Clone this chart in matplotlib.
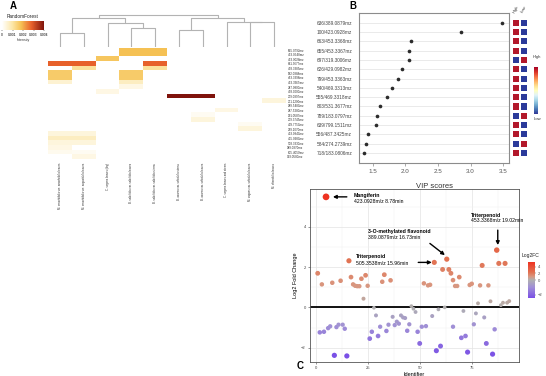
import matplotlib
matplotlib.use('Agg')
import matplotlib.pyplot as plt
import numpy as np
from matplotlib.colors import LinearSegmentedColormap, TwoSlopeNorm, Normalize
from matplotlib.cm import ScalarMappable

plt.rcParams['font.family'] = ['Liberation Sans', 'DejaVu Sans']

# ---------------- data ----------------
# panel A: random forest intensity heatmap
heat_cols = ['M. amoebifolia var. amoebifolia leaves', 'M. amoebifolia var. angustifolia leaves',
             'C. vagans leaves (dry)', 'B. salicifolia var. salicifolia leaves',
             'B. salicifolia var. salicifolia stems', 'B. azurea var. salicifolia stems',
             'B. azurea var. salicifolia leaves', 'C. vagans leaves and stems',
             'M. vagans var. salicifolia leaves', 'M. alternifolia leaves']
heat_rows = ['655.0792mz', '453.0548mz', '453.0028mz', '631.3677mz', '493.3385mz', '182.0888mz',
             '463.3398mz', '453.3365mz', '247.0800mz', '493.0000mz', '279.0897mz', '271.1200mz',
             '289.5480mz', '287.5280mz', '291.0587mz', '279.3745mz', '429.7750mz', '239.1070mz',
             '433.0940mz', '415.0980mz', '503.3330mz', '389.0870mz', '605.4050mz', '303.0580mz']
# (row, column, intensity) for non-empty cells
heat_cells = [(0, 3, 0.0018), (0, 4, 0.0018), (1, 3, 0.0018), (1, 4, 0.0018),
              (2, 2, 0.0017),
              (3, 0, 0.0028), (3, 1, 0.0028), (3, 4, 0.0028),
              (4, 1, 0.0011), (4, 4, 0.0011),
              (5, 0, 0.0016), (5, 3, 0.0016), (6, 0, 0.0016), (6, 3, 0.0016),
              (7, 0, 0.0005), (7, 3, 0.0007), (8, 3, 0.0003),
              (9, 2, 0.0003),
              (10, 5, 0.0040), (10, 6, 0.0040),
              (11, 9, 0.0004), (13, 7, 0.0003),
              (14, 6, 0.00015), (15, 6, 0.0004),
              (16, 8, 0.00015), (17, 8, 0.0004),
              (18, 0, 0.0004), (18, 1, 0.0004), (19, 0, 0.0007), (19, 1, 0.0007),
              (20, 0, 0.0004), (20, 1, 0.0004), (21, 0, 0.0003),
              (22, 0, 0.0002), (22, 1, 0.00015), (23, 1, 0.0003)]
# dendrogram merges: (node a, node b, height); new nodes numbered from 10
dend_merges = [(0, 1, 13), (3, 4, 18), (2, 11, 23), (10, 12, 28),
               (5, 6, 16), (8, 9, 24.3), (7, 15, 24.5), (14, 16, 27.7), (13, 17, 31)]

# panel B: VIP scores
vip_labels = ['636/389.0879mz', '100/423.0928mz', '663/453.3368mz', '655/453.3367mz',
              '697/319.3006mz', '626/429.0982mz', '799/453.3363mz', '540/469.3313mz',
              '555/469.3318mz', '803/531.3677mz', '789/183.0797mz', '639/799.1511mz',
              '556/487.3425mz', '584/274.2739mz', '718/183.0806mz']
vip_scores = [3.49, 2.86, 2.08, 2.055, 2.05, 1.95, 1.89, 1.79, 1.71, 1.61, 1.56, 1.54, 1.43, 1.40, 1.37]
vip_high_first = [1, 1, 1, 1, 0, 1, 1, 1, 1, 1, 0, 1, 1, 0, 1]
vip_groups = ['High', 'Low']

# panel C: log2 fold change per identifier
fc_id = [1, 3, 5, 8, 12, 16, 17, 18, 19, 20, 21, 22, 24, 25, 32, 33, 36, 52, 54, 55, 57, 61, 63,
         64, 65, 66, 67, 68, 69, 74, 75, 79, 80, 83, 87, 88, 91,
         23, 28, 46, 47, 48, 59, 62, 71, 78, 84, 89, 90, 92, 93, 29, 37, 41, 42, 43, 56, 77, 81,
         2, 4, 6, 7, 10, 11, 13, 14, 9, 15, 26, 27, 30, 31, 34, 35, 38, 39, 40, 44, 45, 49, 50,
         51, 53, 58, 60, 66, 70, 72, 73, 76, 82, 85, 86]
fc_val = [1.69, 1.14, 5.48, 1.22, 1.32, 2.31, 1.50, 1.14, 1.07, 1.05, 1.05, 1.42, 1.59, 1.07,
          1.27, 1.62, 1.34, 1.19, 1.09, 1.12, 2.23, 1.88, 2.39, 1.88, 1.69, 1.35, 1.06, 1.06,
          1.50, 1.11, 1.17, 1.09, 2.08, 1.09, 2.84, 2.18, 2.18,
          0.43, -0.02, 0.06, -0.07, -0.23, -0.10, 0.0, -0.18, 0.20, 0.30, 0.11, 0.23, 0.23, 0.31,
          -0.40, -0.47, -0.40, -0.50, -0.53, -0.43, -0.30, -0.50,
          -1.24, -1.21, -1.03, -0.94, -0.98, -0.86, -0.86, -1.06, -2.38, -2.41, -1.55, -1.21,
          -1.42, -0.96, -1.17, -0.86, -0.88, -0.71, -0.81, -1.16, -0.84, -1.21, -1.79, -0.96,
          -0.93, -2.15, -1.92, -0.96, -1.51, -1.42, -2.22, -0.84, -1.79, -2.32, -1.09]

W, H = 546, 376
fig = plt.figure(figsize=(W / 100, H / 100), dpi=100)


def px_axes(x0, y0, x1, y1, **kw):
    return fig.add_axes([x0 / W, 1 - y1 / H, (x1 - x0) / W, (y1 - y0) / H], **kw)


def ftext(x, y, s, **kw):
    return fig.text(x / W, 1 - y / H, s, **kw)


# ---------------- panel A ----------------
rf_cmap = LinearSegmentedColormap.from_list(
    'rf', [(0, '#ffffff'), (0.25, '#fce6a6'), (0.45, '#f6c255'), (0.7, '#e8622c'), (1, '#7f130c')])
heat = np.zeros((len(heat_rows), len(heat_cols)))
for r, c, v in heat_cells:
    heat[r, c] = v

axh = px_axes(48, 47.7, 286, 159.3)
axh.imshow(heat, cmap=rf_cmap, vmin=0, vmax=0.004, aspect='auto', interpolation='nearest')
axh.set_xticks(range(len(heat_cols)))
axh.set_xticklabels(heat_cols, rotation=90, fontsize=2.0, color='#333333')
axh.yaxis.tick_right()
axh.set_yticks(range(len(heat_rows)))
axh.set_yticklabels(heat_rows, fontsize=2.2, color='#333333')
axh.tick_params(length=0, pad=2.5)
axh.tick_params(axis='y', pad=1)
for s in axh.spines.values():
    s.set_visible(False)

# dendrogram
axd = px_axes(48, 13, 286, 46.5)
pos = {i: (float(i), 0.0) for i in range(len(heat_cols))}
for k, (a, b, h) in enumerate(dend_merges):
    xa, ha = pos[a]
    xb, hb = pos[b]
    axd.plot([xa, xa, xb, xb], [ha, h, h, hb], color='#b3b3b3', lw=0.8, solid_capstyle='butt')
    pos[len(heat_cols) + k] = ((xa + xb) / 2, h)
axd.set_xlim(-0.5, len(heat_cols) - 0.5)
axd.set_ylim(0, 33)
axd.axis('off')

# legend colorbar for A
cax_a = px_axes(2, 21, 44, 30)
cb_a = fig.colorbar(ScalarMappable(Normalize(0, 0.004), rf_cmap), cax=cax_a, orientation='horizontal')
cb_a.set_ticks([0, 0.001, 0.002, 0.003, 0.004])
cb_a.set_ticklabels(['0', '0.001', '0.002', '0.003', '0.004'])
cb_a.ax.tick_params(labelsize=2.4, length=1, width=0.3, pad=1)
cb_a.outline.set_visible(False)
ftext(23, 17, 'RandomForest', fontsize=3.4, ha='center', va='center', color='#222222')
ftext(23, 40, 'Intensity', fontsize=2.5, ha='center', va='center', color='#333333')
ftext(13, 6, 'A', fontsize=7, fontweight='bold', ha='center', va='center')

# ---------------- panel B ----------------
axb = px_axes(359, 13, 509, 163)
rows = np.arange(len(vip_labels))
axb.hlines(rows, 1.2, 3.7, color='#e6e6e6', lw=0.6, zorder=0)
axb.scatter(vip_scores, rows, s=7, color='#2b2b2b', zorder=3, linewidths=0)
axb.set_xlim(1.286, 3.59)
axb.set_ylim(len(rows) - 1 + 1.07, -1.04)
axb.set_yticks(rows)
axb.set_yticklabels(vip_labels, fontsize=3.4, color='#444444')
axb.tick_params(axis='y', length=0, pad=5)
axb.set_xticks([1.5, 2.0, 2.5, 3.0, 3.5])
axb.set_xticklabels(['1.5', '2.0', '2.5', '3.0', '3.5'], fontsize=4.5, color='#555555')
axb.tick_params(axis='x', length=2, width=0.5, color='#888888', pad=2)
axb.set_xlabel('VIP scores', fontsize=5.5, color='#333333', labelpad=7)
for s in axb.spines.values():
    s.set_color('#8c8c8c')
    s.set_linewidth(0.8)

# group squares
axs = px_axes(512.5, 13, 527.5, 163)
for r, first in enumerate(vip_high_first):
    left, right = ('#b2182b', '#2b3a9a') if first else ('#2b3a9a', '#b2182b')
    axs.scatter([0, 1], [r, r], marker='s', s=19, c=[left, right], linewidths=0)
axs.set_xlim(-0.5, 1.5)
axs.set_ylim(len(rows) - 1 + 1.07, -1.04)
axs.axis('off')
for i, g in enumerate(vip_groups):
    ftext(516 + 7.5 * i, 9, g, fontsize=3, rotation=60, ha='center', va='center', color='#333333')

cax_b = px_axes(533.5, 67, 538, 114)
cb_b = fig.colorbar(ScalarMappable(Normalize(0, 1), plt.get_cmap('RdYlBu_r')), cax=cax_b)
cb_b.set_ticks([])
cb_b.outline.set_visible(False)
ftext(537, 57, 'High', fontsize=3, ha='center', va='center', color='#333333')
ftext(537, 119, 'Low', fontsize=3, ha='center', va='center', color='#333333')
ftext(353, 6, 'B', fontsize=7, fontweight='bold', ha='center', va='center')

# ---------------- panel C ----------------
fc_cmap = LinearSegmentedColormap.from_list(
    'fc', [(0, '#7a50e6'), (0.3, '#a08fd6'), (0.5, '#b0b0b0'), (0.6, '#d9967f'),
           (0.72, '#e2704f'), (1.0, '#ee3322')])
fc_norm = TwoSlopeNorm(vmin=-2.41, vcenter=0, vmax=5.48)

axc = px_axes(310, 189, 519, 362)
axc.set_facecolor('white')
fc_id_a = np.array(fc_id)
fc_val_a = np.array(fc_val)
axc.scatter(fc_id_a, fc_val_a, c=fc_val_a, cmap=fc_cmap, norm=fc_norm,
            s=7 + 3 * np.abs(fc_val_a), linewidths=0, zorder=3)
axc.axhline(0, color='black', lw=1.3, zorder=2)
axc.set_xlim(-2.7, 97.7)
axc.set_ylim(-2.71, 5.87)
axc.set_xticks([0, 25, 50, 75])
axc.set_yticks([-2, 0, 2, 4])
axc.set_xticks([12.5, 37.5, 62.5, 87.5], minor=True)
axc.set_yticks([-1, 1, 3, 5], minor=True)
axc.grid(True, which='major', color='#e3e3e3', lw=0.5)
axc.grid(True, which='minor', color='#f0f0f0', lw=0.3)
axc.set_axisbelow(True)
axc.tick_params(which='major', labelsize=3, length=1.5, width=0.4, pad=1.5, colors='#444444')
axc.tick_params(which='minor', length=0)
axc.set_xlabel('Identifier', fontsize=4, labelpad=1)
axc.set_ylabel('Log2 Fold Change', fontsize=4, labelpad=2)
for s in axc.spines.values():
    s.set_color('#555555')
    s.set_linewidth(0.6)

arrow = dict(arrowstyle='-|>', color='black', lw=1.0, mutation_scale=5, shrinkA=0, shrinkB=0)
axc.annotate('', xy=(8.3, 5.48), xytext=(15.0, 5.48), arrowprops=arrow)
axc.text(18.4, 5.57, 'Mangiferin', fontsize=3.7, fontweight='bold', va='center')
axc.text(18.4, 5.24, '423.0928m/z 8.78min', fontsize=3.7, va='center')

axc.annotate('', xy=(87.5, 3.09), xytext=(87.5, 3.83), arrowprops=arrow)
axc.text(74.5, 4.58, 'Triterpenoid', fontsize=3.7, fontweight='bold', va='center')
axc.text(74.5, 4.29, '453.3368m/z 19.02min', fontsize=3.7, va='center')

axc.annotate('', xy=(62.1, 2.59), xytext=(54.9, 3.17), arrowprops=arrow)
axc.text(25.1, 3.76, '3-O-methylated flavonoid', fontsize=3.7, fontweight='bold', va='center')
axc.text(25.1, 3.47, '389.0879m/z 16.73min', fontsize=3.7, va='center')

axc.annotate('', xy=(55.8, 2.23), xytext=(49.3, 2.23), arrowprops=arrow)
axc.text(19.4, 2.51, 'Triterpenoid', fontsize=3.7, fontweight='bold', va='center')
axc.text(19.4, 2.18, '505.3538m/z 15.96min', fontsize=3.7, va='center')

cax_c = px_axes(528, 262, 535, 298)
cb_c = fig.colorbar(ScalarMappable(fc_norm, fc_cmap), cax=cax_c)
cb_c.set_ticks([-2, 0, 2, 4])
cb_c.ax.tick_params(labelsize=3, length=1, width=0.3, pad=1, colors='#444444')
cb_c.outline.set_visible(False)
ftext(531, 255, 'Log2FC', fontsize=3.6, ha='center', va='center', color='#222222')
ftext(300, 366, 'C', fontsize=7, fontweight='bold', ha='center', va='center')

fig.savefig('out.png', dpi=100)
